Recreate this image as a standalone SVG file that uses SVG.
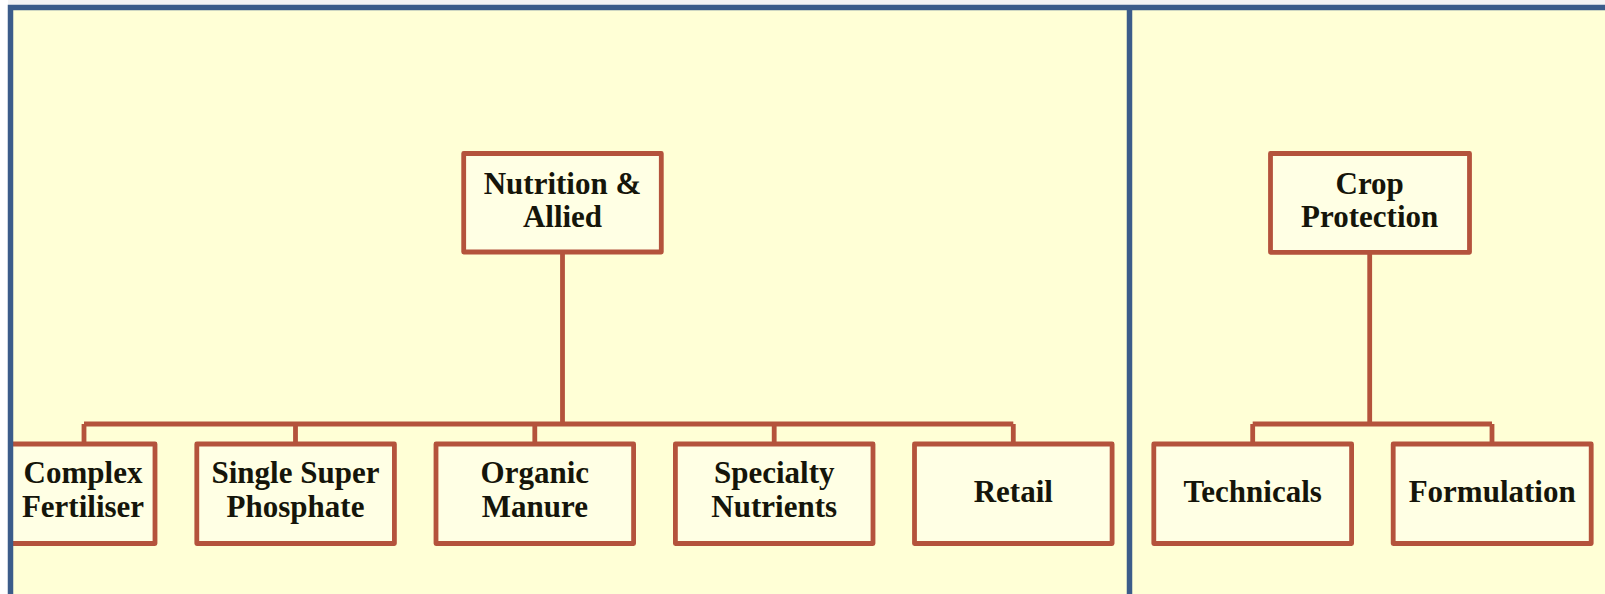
<svg xmlns="http://www.w3.org/2000/svg" width="1605" height="594" viewBox="0 0 1605 594">
<style>
.box{fill:#ffffe4;stroke:#b4533c;stroke-width:4.8;stroke-linejoin:round}
.con{fill:none;stroke:#b4533c;stroke-width:4.8;stroke-linejoin:miter}
.t{font-family:"Liberation Serif","Times New Roman",serif;font-weight:bold;font-size:31px;fill:#15150a;text-anchor:middle}
.frame{stroke:#3b5c8a;stroke-width:5.5;fill:none}
</style>
<rect x="0" y="0" width="1605" height="594" fill="#ffffd6"/>
<g id="connectors">
<path class="con" d="M562.5,253 V424 M84,424 H1013.3 M84,424 V444 M295.5,424 V444 M534.8,424 V444 M774.2,424 V444 M1013.3,424 V444"/>
<path class="con" d="M1369.7,254 V424 M1252.7,424 H1492 M1252.7,424 V444 M1492,424 V444"/>
</g>
<g id="n-nutrition"><rect class="box" x="463.7" y="153.5" width="197.6" height="98.5"/><text class="t" x="562.5" y="193.5">Nutrition &amp;</text><text class="t" x="562.5" y="226.5">Allied</text></g>
<g id="n-complex"><rect class="box" x="-20" y="444" width="175" height="99.5"/><text class="t" x="83" y="483">Complex</text><text class="t" x="83" y="516.5">Fertiliser</text></g>
<g id="n-ssp"><rect class="box" x="196.8" y="444" width="197.6" height="99.5"/><text class="t" x="295.5" y="483">Single Super</text><text class="t" x="295.5" y="516.5">Phosphate</text></g>
<g id="n-organic"><rect class="box" x="436" y="444" width="197.6" height="99.5"/><text class="t" x="534.8" y="483">Organic</text><text class="t" x="534.8" y="516.5">Manure</text></g>
<g id="n-specialty"><rect class="box" x="675.4" y="444" width="197.6" height="99.5"/><text class="t" x="774.2" y="483">Specialty</text><text class="t" x="774.2" y="516.5">Nutrients</text></g>
<g id="n-retail"><rect class="box" x="914.5" y="444" width="197.6" height="99.5"/><text class="t" x="1013.3" y="501.5">Retail</text></g>
<g id="n-crop"><rect class="box" x="1270.5" y="153.5" width="199" height="98.8"/><text class="t" x="1369.7" y="193.5">Crop</text><text class="t" x="1369.7" y="226.5">Protection</text></g>
<g id="n-technicals"><rect class="box" x="1153.8" y="444" width="197.8" height="99.5"/><text class="t" x="1252.7" y="501.5">Technicals</text></g>
<g id="n-formulation"><rect class="box" x="1393.2" y="444" width="198" height="99.5"/><text class="t" x="1492.2" y="501.5">Formulation</text></g>
<g id="frame">
<rect x="0" y="0" width="1605" height="5" fill="#f4f4f4"/>
<rect x="0" y="0" width="8" height="594" fill="#ffffff"/>
<path class="frame" d="M10.5,594 V7.5 H1605"/>
<path class="frame" d="M1129.5,7.5 V594"/>
</g>
</svg>
